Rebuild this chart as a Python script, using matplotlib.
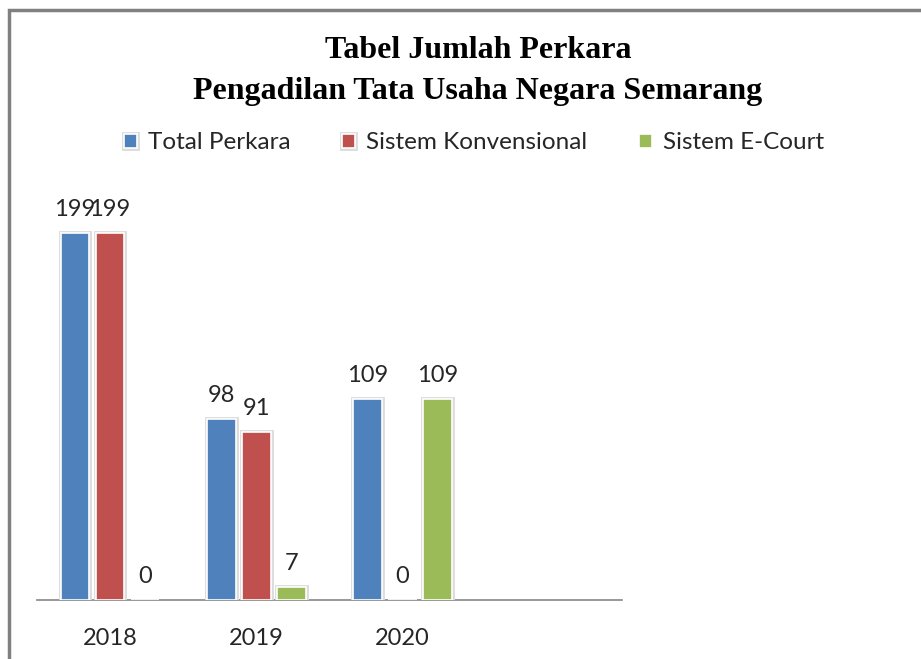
# coding=utf-8
import matplotlib
matplotlib.use('Agg')

import matplotlib.pyplot as plt
import matplotlib.patheffects as pe
from matplotlib.patches import Rectangle
import numpy as np

years = ["2018", "2019", "2020"]
total_perkara = [199, 98, 109]
konvensional = [199, 91, 0]
e_court = [0, 7, 109]

series_names = ["Total Perkara", "Sistem Konvensional", "Sistem E-Court"]
colors = ["#4F81BD", "#C0504D", "#9BBB59"]

plt.rcParams['font.family'] = ['Lato', 'DejaVu Sans']

fig = plt.figure(figsize=(9.21, 6.59), dpi=100)
ax = fig.add_axes([37/921, 1 - 600/659, 585/921, 400/659])

x = np.arange(len(years))
w = 0.195
offs = [-0.24, 0, 0.24]
halo = [pe.Stroke(linewidth=3.5, foreground="#dcdcdc"), pe.Normal()]

handles = []
for vals, off, c, name in zip([total_perkara, konvensional, e_court], offs, colors, series_names):
    bars = ax.bar(x + off, vals, width=w, color=c, edgecolor="white", linewidth=1.2,
                  label=name, zorder=3)
    for b in bars:
        if b.get_height() > 0:
            b.set_path_effects(halo)
    handles.append(bars)
    for xi, v in zip(x + off, vals):
        ax.annotate(str(v), (xi, v), xytext=(0, 13), textcoords='offset pixels',
                    ha='center', va='bottom', fontsize=17, color='#262626')

ax.set_xlim(-0.5, 3.5)
ax.set_ylim(0, 400/1.845)
ax.set_xticks(x)
ax.set_xticklabels(years, fontsize=17, color='#262626')
ax.tick_params(axis='x', length=0, pad=20)
ax.set_yticks([])
for s in ['top', 'right', 'left']:
    ax.spines[s].set_visible(False)
ax.spines['bottom'].set_color('#868686')
ax.spines['bottom'].set_linewidth(1.2)

# title (Times-like bold)
fig.text(478/921, 1 - 51/659, "Tabel Jumlah Perkara", ha='center', va='center',
         fontsize=23, fontweight='bold', family='Liberation Serif')
fig.text(478/921, 1 - 91/659, "Pengadilan Tata Usaha Negara Semarang", ha='center', va='center',
         fontsize=23, fontweight='bold', family='Liberation Serif')

leg = fig.legend(handles, series_names, loc='center', bbox_to_anchor=(474/921, 1 - 143/659),
                 ncol=3, frameon=False, fontsize=17.5, handlelength=0.55, handleheight=0.55,
                 handletextpad=0.45, columnspacing=2.1)
for t in leg.get_texts():
    t.set_color('#262626')

# chart border (left and top visible)
fig.patches.append(Rectangle((9/921, -0.1), 1.2, 1.1 - 10/659, transform=fig.transFigure,
                             fill=False, edgecolor='#808080', linewidth=2.5, clip_on=False))

plt.savefig("out.png", dpi=100)
plt.close()
